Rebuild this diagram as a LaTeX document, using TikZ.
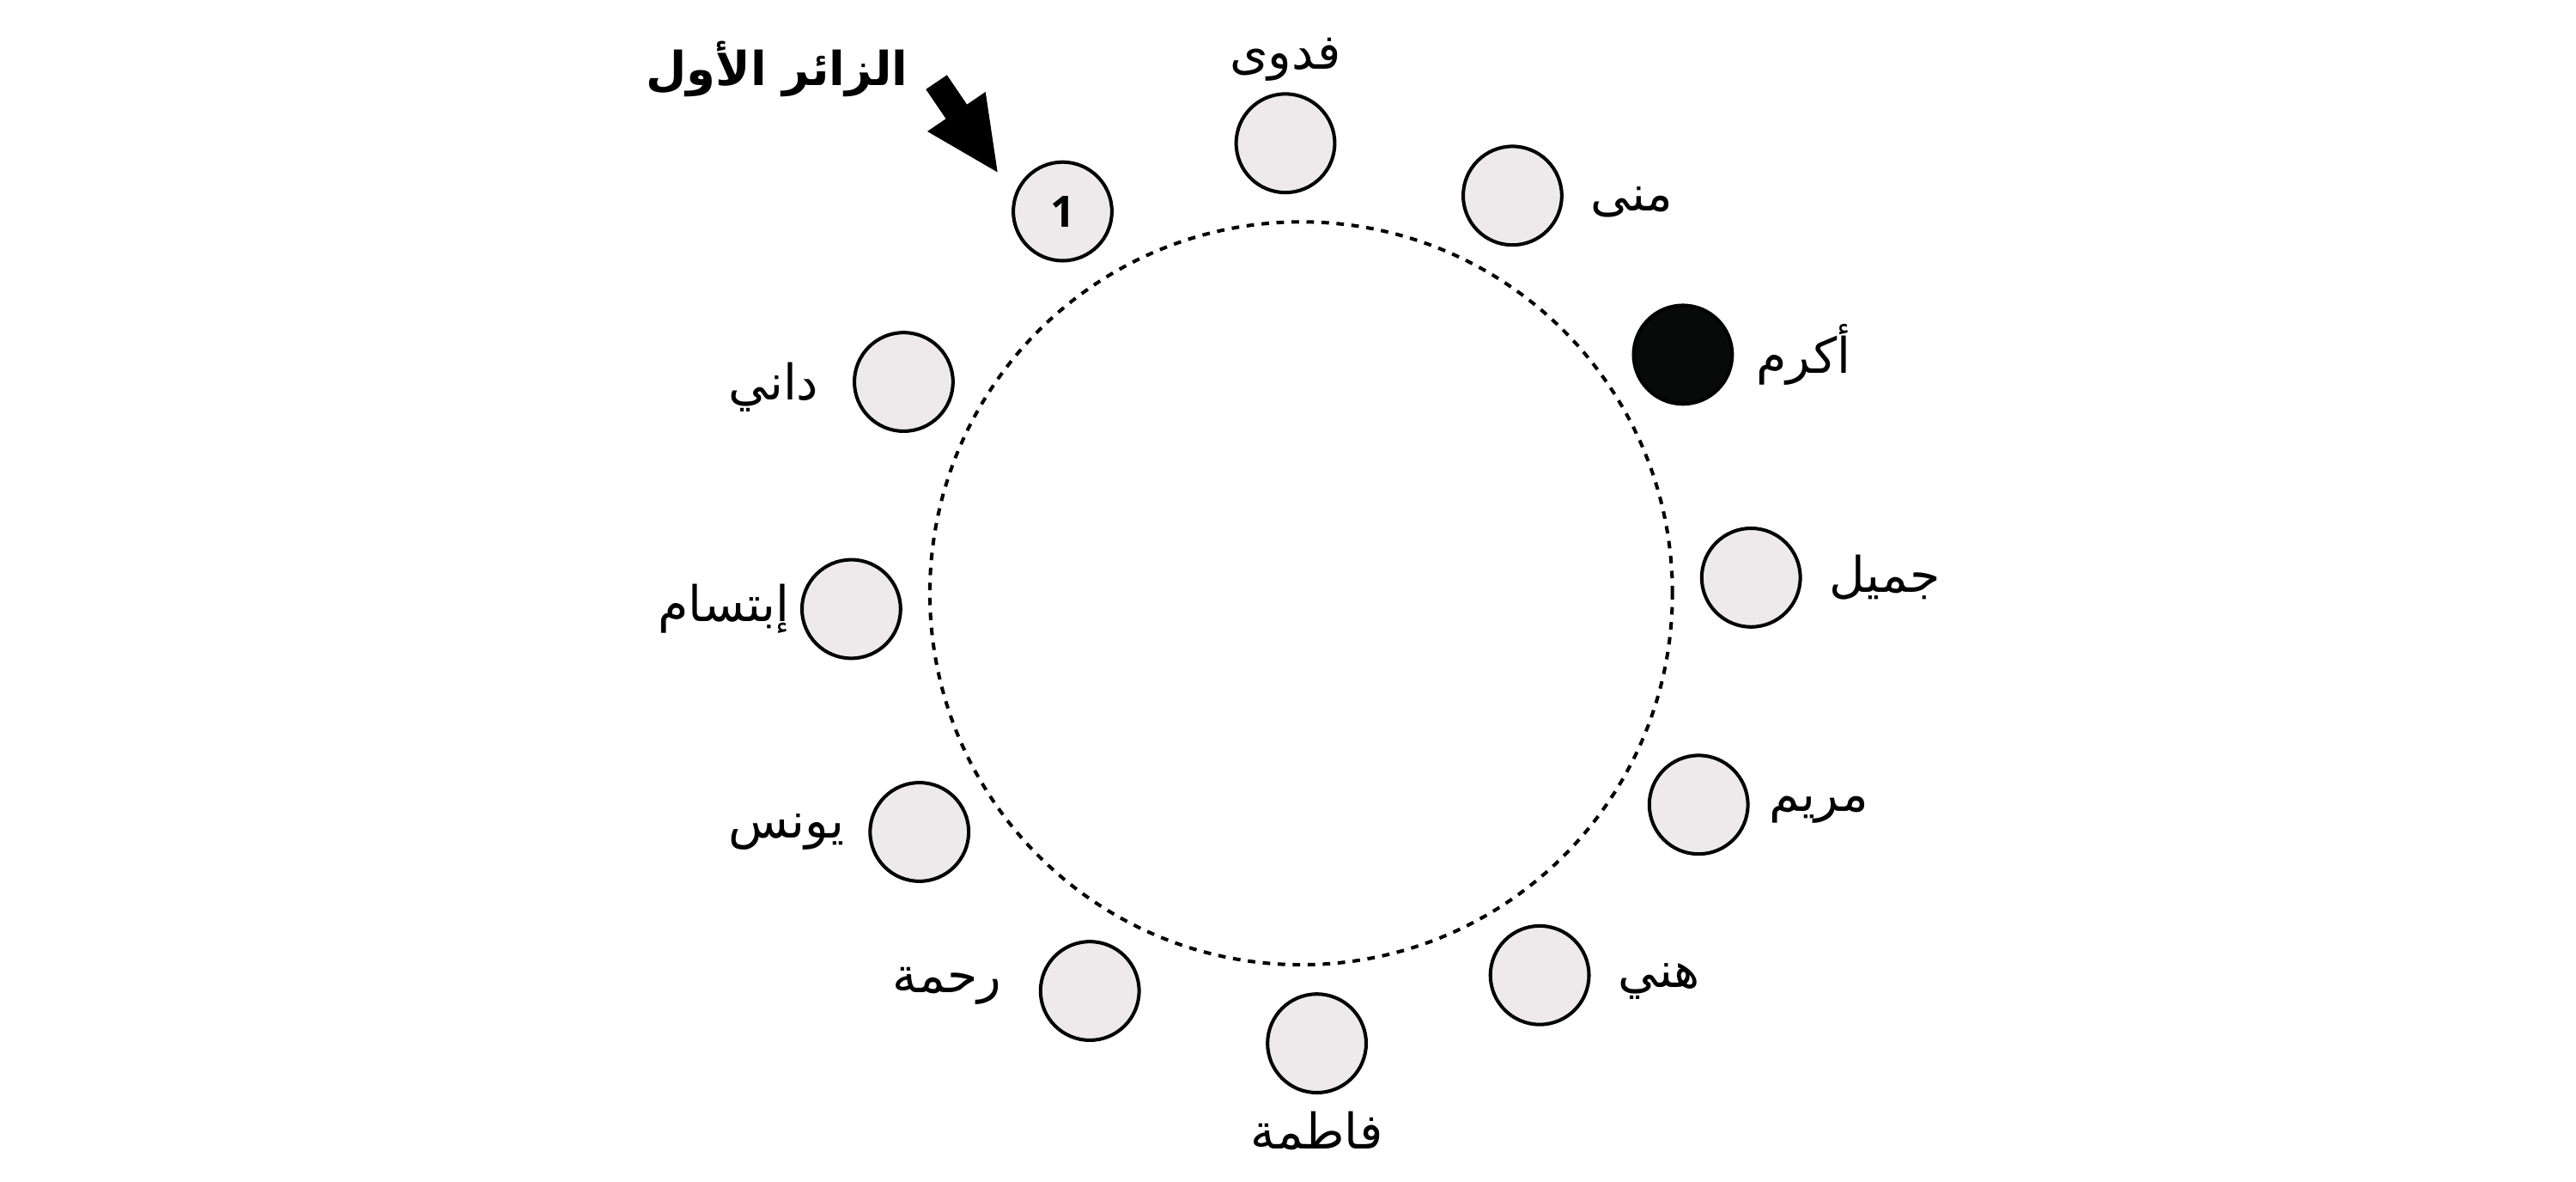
\documentclass[tikz,border=0pt]{standalone}
\usepackage{fontspec}
\usetikzlibrary{positioning,arrows.meta}
\newfontfamily\arabicfont[Script=Arabic]{DejaVu Sans}
\newfontfamily\numfont{Open Sans}
\TeXXeTstate=1
\definecolor{guestgray}{RGB}{238,233,235}
\definecolor{nearblack}{RGB}{8,10,10}
\begin{document}
\begin{tikzpicture}[
                guest/.style={circle,draw,line width=0.6pt,fill=guestgray,minimum size=0.6cm,inner sep=0pt},
                host/.style={guest,fill=nearblack},
                guestname/.style={font=\arabicfont\fontsize{8.5}{10}\selectfont,inner sep=0pt},
                titletext/.style={font=\arabicfont\bfseries\fontsize{8.1}{10}\selectfont,inner sep=0pt},
                visitorarrow/.style={line width=0.155cm,-{Triangle[length=0.46cm,width=0.39cm]}}
                ]
                \useasboundingbox (-7.92,-3.58) rectangle (7.76,3.61);
                \draw [line width=0.6pt,dash pattern=on 1.3pt off 1.3pt] (0,0) circle(2.26);
                \node[guest] (first) at (122:2.74) {\numfont\bfseries\fontsize{7.5}{8}\selectfont 1};
                \node[guest] (fadwa) at (92:2.74) {};
                \node[guest] (muna) at (62:2.74) {};
                \node[host] (akram) at (32:2.74) {};
                \node[guest] (jamil) at (2:2.74) {};
                \node[guest] (maryam) at (-28:2.74) {};
                \node[guest] (hani) at (-58:2.74) {};
                \node[guest] (fatima) at (-88:2.74) {};
                \node[guest] (rahma) at (-118:2.74) {};
                \node[guest] (yunus) at (-148:2.74) {};
                \node[guest] (ibtisam) at (182:2.74) {};
                \node[guest] (dani) at (152:2.74) {};
                \node[guestname,above=0.06cm of fadwa] (fadwaname) {\beginR فدوى\endR};
                \node[guestname,right=0.16cm of muna,yshift=-0.04cm] (munaname) {\beginR منى\endR};
                \node[guestname,right=0.13cm of akram] (akramname) {\beginR أكرم\endR};
                \node[guestname,right=0.16cm of jamil] (jamilname) {\beginR جميل\endR};
                \node[guestname,right=0.11cm of maryam,yshift=-0.03cm] (maryamname) {\beginR مريم\endR};
                \node[guestname,right=0.16cm of hani,yshift=-0.04cm] (haniname) {\beginR هني\endR};
                \node[guestname,below=0.1cm of fatima] (fatimaname) {\beginR فاطمة\endR};
                \node[guestname,left=0.22cm of rahma,yshift=0.03cm] (rahmaname) {\beginR رحمة\endR};
                \node[guestname,left=0.14cm of yunus] (yunusname) {\beginR يونس\endR};
                \node[guestname,left=0.06cm of ibtisam] (ibtisamname) {\beginR إبتسام\endR};
                \node[guestname,left=0.2cm of dani,yshift=-0.03cm] (daniname) {\beginR داني\endR};
                \node[titletext] (firstvisitor) at (-3.19,3.19) {\beginR الزائر الأول\endR};
                \coordinate (arrowtail) at (-2.22,3.11);
                \coordinate (arrowtip) at (-1.84,2.55);
                \draw [visitorarrow] (arrowtail) -- (arrowtip);
                \end{tikzpicture}
\end{document}
